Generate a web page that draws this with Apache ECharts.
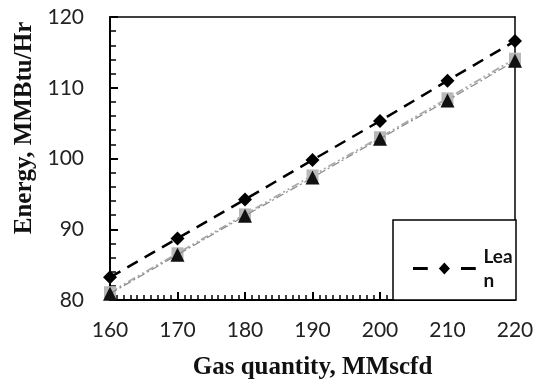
<!DOCTYPE html>
<html>
<head>
<meta charset="utf-8">
<script src="https://cdn.jsdelivr.net/npm/echarts@6/dist/echarts.min.js"></script>
<style>
  html, body { margin: 0; padding: 0; background: #fff; }
  #chart { width: 540px; height: 387px; }
</style>
</head>
<body>
<div id="chart"></div>
<script>
// Gas throughput (MMscfd) against energy demand (MMBtu/Hr)
const gasQuantity = [160, 170, 180, 190, 200, 210, 220];
const leanEnergy = [83.2, 88.7, 94.2, 99.8, 105.3, 111.0, 116.6];
const squareEnergy = [81.1, 86.6, 92.1, 97.6, 103.0, 108.5, 114.1];
const triangleEnergy = [80.9, 86.4, 91.9, 97.3, 102.8, 108.2, 113.8];

const xTicks = { min: 160, max: 220, step: 10 };
const yTicks = { min: 80, max: 120, step: 10 };

const pairs = (ys) => gasQuantity.map((x, i) => [x, ys[i]]);

const chart = echarts.init(document.getElementById('chart'));

const labelStyle = (margin) => ({ margin: margin, fontFamily: 'Lato', fontSize: 21, color: '#222' });

// plain frame axes for the top and right edges of the plot box
const frameAxis = (pos, r) => ({
  type: 'value', position: pos,
  min: r.min, max: r.max, interval: r.step,
  axisLine: { show: true, onZero: false, lineStyle: { color: '#000', width: 1.5 } },
  axisTick: { show: false }, axisLabel: { show: false }, splitLine: { show: false }
});

chart.setOption({
  animation: false,
  backgroundColor: '#fff',
  grid: { left: 110, right: 25, top: 17, bottom: 87 },
  xAxis: [{
    type: 'value',
    min: xTicks.min, max: xTicks.max, interval: xTicks.step,
    name: 'Gas quantity, MMscfd',
    nameLocation: 'middle',
    nameGap: 55,
    nameTextStyle: { fontFamily: 'Liberation Serif', fontWeight: 'bold', fontSize: 25, color: '#111' },
    axisLine: { show: true, onZero: false, lineStyle: { color: '#000', width: 2 } },
    axisTick: { show: true, inside: true, length: 8, lineStyle: { color: '#000', width: 2 } },
    minorTick: { show: true, splitNumber: 10, length: 5, lineStyle: { color: '#000', width: 1.5 } },
    splitLine: { show: false },
    axisLabel: labelStyle(20)
  }, frameAxis('top', xTicks)],
  yAxis: [{
    type: 'value',
    min: yTicks.min, max: yTicks.max, interval: yTicks.step,
    axisLine: { show: true, onZero: false, lineStyle: { color: '#000', width: 2 } },
    axisTick: { show: true, inside: true, length: 8, lineStyle: { color: '#000', width: 2 } },
    minorTick: { show: true, splitNumber: 5, length: 6, lineStyle: { color: '#000', width: 1.5 } },
    splitLine: { show: false },
    axisLabel: labelStyle(26)
  }, frameAxis('right', yTicks)],
  legend: {
    data: ['Lean'],
    left: 408, top: 242,
    itemWidth: 68, itemHeight: 12,
    icon: 'path://M0,5h16v3h-16z M34,0l6,6.5l-6,6.5l-6,-6.5z M52,5h16v3h-16z',
    formatter: () => 'Lea\nn',
    textStyle: {
      fontFamily: 'Lato', fontWeight: 'bold', fontSize: 19, color: '#111',
      lineHeight: 24, verticalAlign: 'top', padding: [-12, 0, 0, 0]
    }
  },
  graphic: [
    {
      type: 'rect', z: 3,
      shape: { x: 393, y: 220, width: 123, height: 80 },
      style: { fill: '#fff', stroke: '#000', lineWidth: 1.5 }
    },
    {
      type: 'text', x: 25, y: 128, rotation: Math.PI / 2,
      style: {
        text: 'Energy, MMBtu/Hr', align: 'center', verticalAlign: 'middle',
        fontFamily: 'Liberation Serif', fontWeight: 'bold', fontSize: 25, fill: '#111'
      }
    }
  ],
  series: [
    {
      name: 'Lean', type: 'line', data: pairs(leanEnergy), z: 5,
      symbol: 'diamond', symbolSize: 14,
      itemStyle: { color: '#000' },
      lineStyle: { color: '#000', width: 2.5, type: [12, 8] }
    },
    {
      name: 'Rich', type: 'line', data: pairs(squareEnergy), z: 3,
      symbol: 'rect', symbolSize: 12,
      itemStyle: { color: '#b8b8b8' },
      lineStyle: { color: '#aaa', width: 1.8, type: [8, 3, 2, 3, 2, 3] }
    },
    {
      name: 'Base', type: 'line', data: pairs(triangleEnergy), z: 4,
      symbol: 'triangle', symbolSize: 14,
      itemStyle: { color: '#111' },
      lineStyle: { color: '#888', width: 1.2, type: [8, 3, 2, 3] }
    }
  ]
});
</script>
</body>
</html>
